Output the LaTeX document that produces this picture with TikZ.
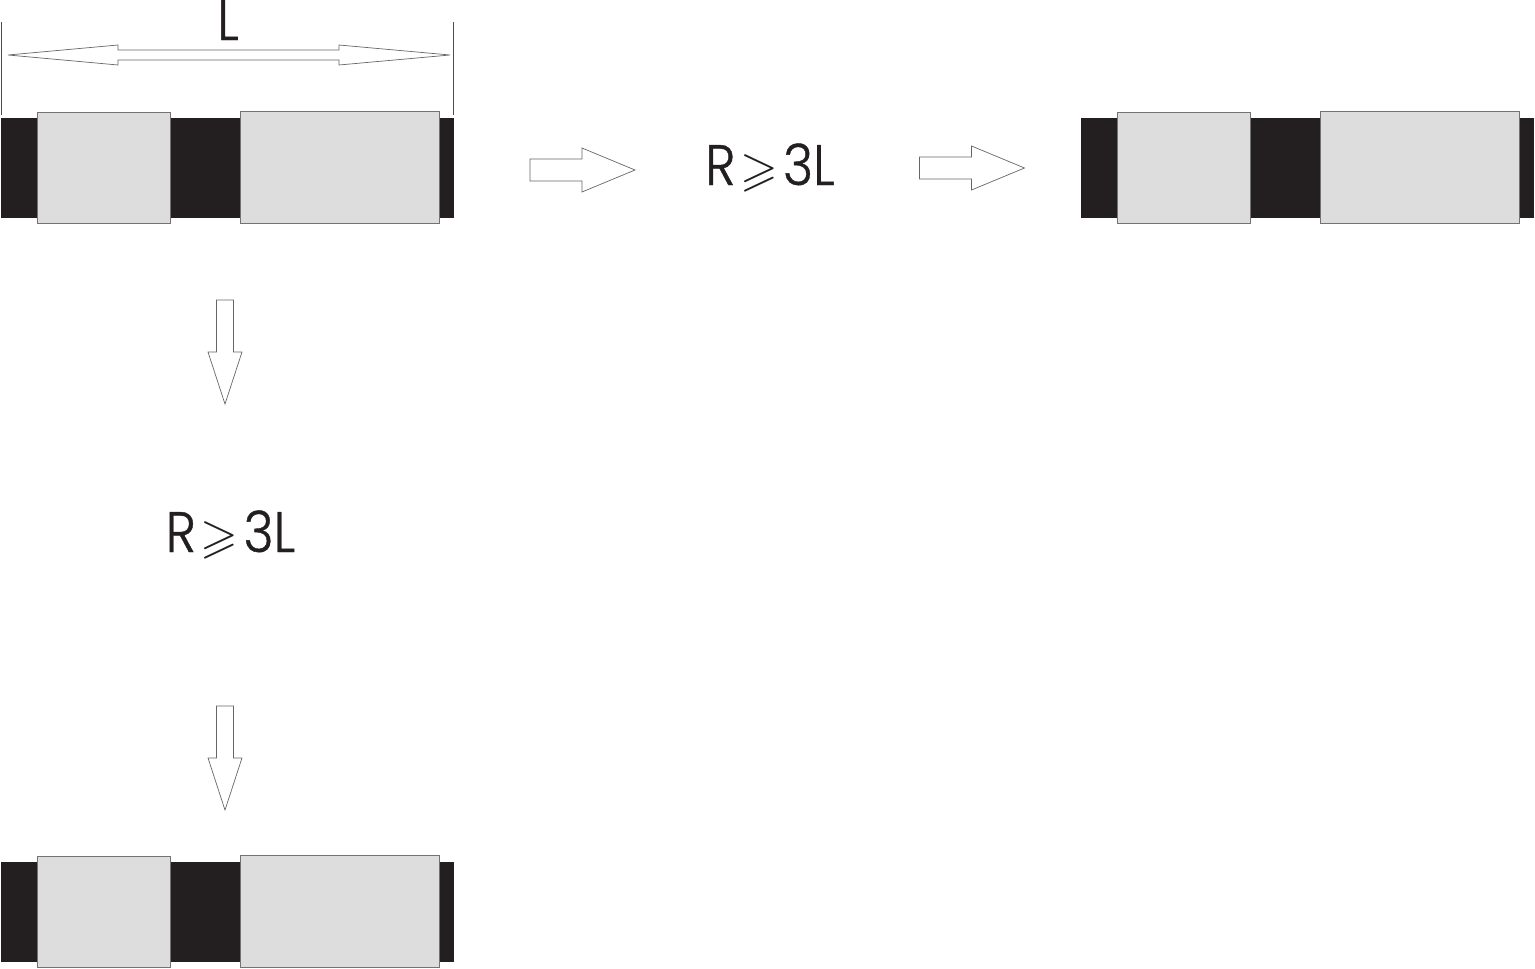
\documentclass[tikz,border=0pt]{standalone}
\usepackage{amssymb}
\usepackage{fontspec}
\setmainfont[FakeStretch=0.9,FakeBold=0.7]{Poppins Light}
\definecolor{barblack}{HTML}{231F20}
\definecolor{capgray}{HTML}{DCDDDC}
\newcommand{\atleast}{\kern5pt\scalebox{.85}{$\geqslant$}\kern5pt}
\tikzset{
  band/.style={fill=barblack, inner sep=0pt, minimum width=453pt, minimum height=100pt},
  sleeve/.style={draw=black!55, line width=1pt, fill=capgray, inner sep=0pt},
  outline/.style={draw=black!60, line width=0.7pt, fill=white},
  cond/.style={text=barblack, font=\fontsize{57}{57}\selectfont, inner sep=0pt, anchor=base},
  tick/.style={draw=black!70, line width=0.8pt},
  pics/rightarrow/.style={code={
    \draw[outline] (0,-11) -- (52,-11) -- (52,-22) -- (105,0) -- (52,22) -- (52,11) -- (0,11) -- cycle;
  }},
  pics/downarrow/.style={code={
    \draw[outline] (-8.5,0) -- (8.5,0) -- (8.5,52) -- (17,52) -- (0,104) -- (-17,52) -- (-8.5,52) -- (-8.5,0) -- cycle;
  }}
}
\begin{document}
\begin{tikzpicture}[x=1pt,y=-1pt]
  \useasboundingbox (0,0) rectangle (1535,969);
  % the three bars
  \foreach \name/\dx/\dy in {A/0/0, B/1080/0, C/0/744} {
    \node[band] (band\name) at (227.5+\dx,168+\dy) {};
    \node[sleeve, minimum width=133pt, minimum height=111pt] (left\name) at (103.5+\dx,167.5+\dy) {};
    \node[sleeve, minimum width=199.5pt, minimum height=112pt] (right\name) at (340+\dx,167+\dy) {};
  }
  % dimension
  \coordinate (tickLtop) at (1.5,22);
  \coordinate (tickLbot) at (1.5,115);
  \coordinate (tickRtop) at (453,22);
  \coordinate (tickRbot) at (453,115);
  \draw[tick] (tickLtop) -- (tickLbot);
  \draw[tick] (tickRtop) -- (tickRbot);
  \draw[outline] (8,55) -- (118,45) -- (118,50) -- (339,50) -- (339,45) -- (450,55)
    -- (339,65) -- (339,60) -- (118,60) -- (118,65) -- cycle;
  \node[cond] (length) at (228,40) {L};
  % arrows and conditions
  \pic at (530,170) {rightarrow};
  \node[cond] (condB) at (770,185) {R\atleast3L};
  \pic at (919.5,168) {rightarrow};
  \pic at (225,300) {downarrow};
  \node[cond] (condC) at (230.5,552) {R\atleast3L};
  \pic at (225,706) {downarrow};
\end{tikzpicture}
\end{document}
